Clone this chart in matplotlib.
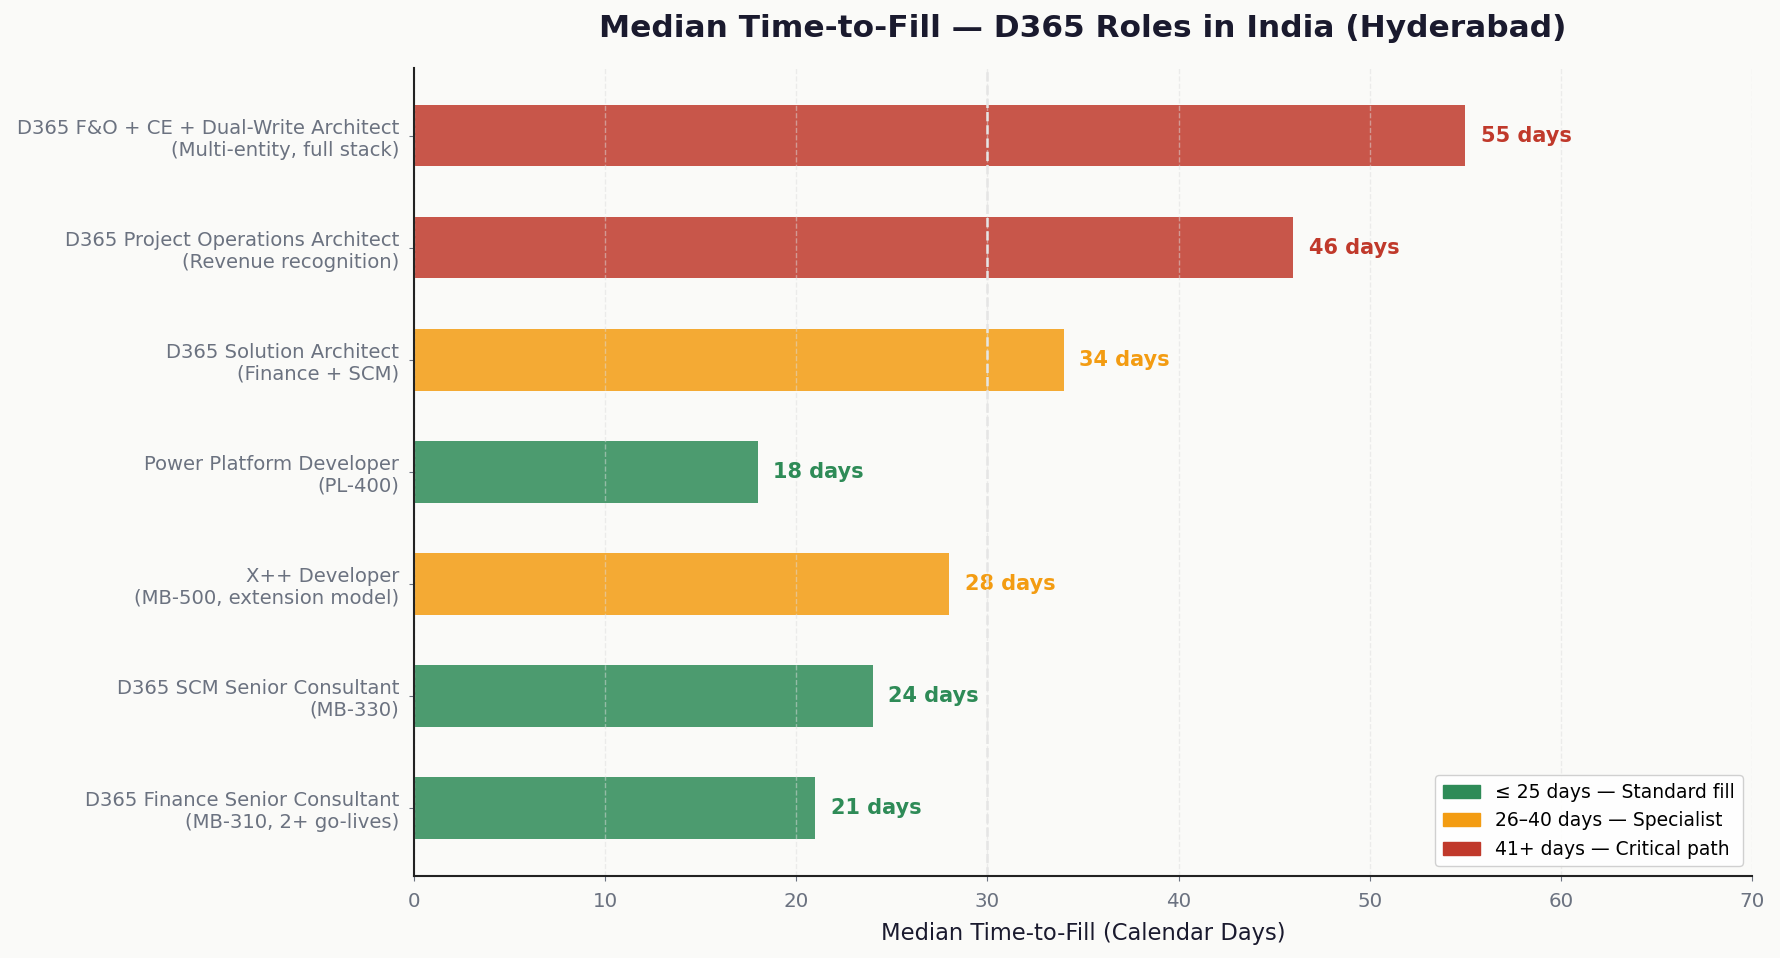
import matplotlib.pyplot as plt
from matplotlib.patches import Patch

roles = [
    'D365 Finance Senior Consultant\n(MB-310, 2+ go-lives)',
    'D365 SCM Senior Consultant\n(MB-330)',
    'X++ Developer\n(MB-500, extension model)',
    'Power Platform Developer\n(PL-400)',
    'D365 Solution Architect\n(Finance + SCM)',
    'D365 Project Operations Architect\n(Revenue recognition)',
    'D365 F&O + CE + Dual-Write Architect\n(Multi-entity, full stack)',
]
days = [21, 24, 28, 18, 34, 46, 55]

green = '#2E8B57'
orange = '#F39C12'
red = '#C0392B'

def band_color(d):
    if d <= 25:
        return green
    if d <= 40:
        return orange
    return red

colors = [band_color(d) for d in days]

fig, ax = plt.subplots(figsize=(17.8, 9.58), dpi=100)
fig.patch.set_facecolor('#FAFAF8')
ax.set_facecolor('#FAFAF8')

ax.barh(range(len(roles)), days, height=0.55, color=colors, alpha=0.85, zorder=2)

for i, d in enumerate(days):
    ax.text(d + 0.8, i, f'{d} days', va='center', ha='left',
            fontsize=15, fontweight='bold', color=band_color(d))

ax.set_yticks(range(len(roles)))
ax.set_yticklabels(roles, fontsize=14.1, color='#6B7280')
ax.set_xlim(0, 70)
ax.tick_params(axis='x', labelsize=14.3, colors='#6B7280', pad=8)
ax.tick_params(axis='y', colors='#6B7280', pad=7)

ax.grid(axis='x', linestyle='--', color='#DDDDDD', alpha=0.5, linewidth=1, zorder=3)
ax.set_axisbelow(False)
ax.axvline(30, color='#E5E5E5', linestyle='--', linewidth=1.8, zorder=3)

for s in ['top', 'right']:
    ax.spines[s].set_visible(False)
for s in ['left', 'bottom']:
    ax.spines[s].set_color('#222222')
    ax.spines[s].set_linewidth(1.5)
    ax.spines[s].set_zorder(5)

ax.set_xlabel('Median Time-to-Fill (Calendar Days)', fontsize=16.3, color='#1A1A2E', labelpad=8)
ax.set_title('Median Time-to-Fill \u2014 D365 Roles in India (Hyderabad)',
             fontsize=22.5, fontweight='bold', color='#1A1A2E', pad=22)

handles = [
    Patch(color=green, label='\u2264 25 days \u2014 Standard fill'),
    Patch(color=orange, label='26\u201340 days \u2014 Specialist'),
    Patch(color=red, label='41+ days \u2014 Critical path'),
]
ax.legend(handles=handles, loc='lower right', fontsize=13.5, framealpha=0.9)

plt.subplots_adjust(left=0.2326, right=0.9843, top=0.929, bottom=0.086)
fig.savefig('out.png', dpi=100, facecolor=fig.get_facecolor())
